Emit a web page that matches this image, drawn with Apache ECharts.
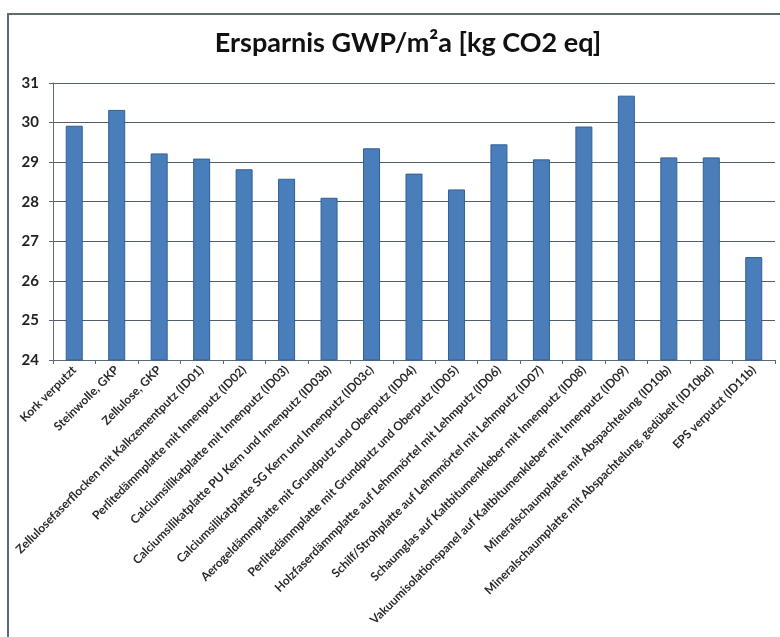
<!DOCTYPE html>
<html>
<head>
<meta charset="utf-8">
<script src="https://cdn.jsdelivr.net/npm/echarts@6/dist/echarts.min.js"></script>
<style>
html,body{margin:0;padding:0;background:#fff;}
#chart{width:780px;height:637px;}
</style>
</head>
<body>
<div id="chart"></div>
<script>
const titleText = 'Ersparnis GWP/m²a [kg CO2 eq]';
const categories = [
  'Kork verputzt',
  'Steinwolle, GKP',
  'Zellulose, GKP',
  'Zellulosefaserflocken mit Kalkzementputz (ID01)',
  'Perlitedämmplatte mit Innenputz (ID02)',
  'Calciumsilikatplatte mit Innenputz (ID03)',
  'Calciumsilikatplatte PU Kern und Innenputz (ID03b)',
  'Calciumsilikatplatte SG Kern und Innenputz (ID03c)',
  'Aerogeldämmplatte mit Grundputz und Oberputz (ID04)',
  'Perlitedämmplatte mit Grundputz und Oberputz (ID05)',
  'Holzfaserdämmplatte auf Lehmmörtel mit Lehmputz (ID06)',
  'Schilf/Strohplatte auf Lehmmörtel mit Lehmputz (ID07)',
  'Schaumglas auf Kaltbitumenkleber mit Innenputz (ID08)',
  'Vakuumisolationspanel auf Kaltbitumenkleber mit Innenputz (ID09)',
  'Mineralschaumplatte mit Abspachtelung (ID10b)',
  'Mineralschaumplatte mit Abspachtelung, gedübelt (ID10bd)',
  'EPS verputzt (ID11b)'
];
const values = [29.92, 30.32, 29.22, 29.09, 28.82, 28.58, 28.10, 29.35, 28.71, 28.31, 29.45, 29.07, 29.90, 30.68, 29.12, 29.12, 26.60];
const yMin = 24, yMax = 31, yStep = 1;

const chart = echarts.init(document.getElementById('chart'), null, {renderer:'canvas'});
chart.setOption({
  animation: false,
  backgroundColor: '#fff',
  graphic: [{
    type: 'rect',
    shape: {x: 8, y: 14, width: 800, height: 700},
    style: {fill: 'none', stroke: '#5f6b73', lineWidth: 2},
    silent: true, z: -1
  }],
  title: {
    text: titleText,
    left: 403, top: 25, textAlign: 'center',
    textStyle: {fontFamily: 'Lato', fontWeight: 'bold', fontSize: 27, color: '#111'}
  },
  grid: {left: 53, right: 5, top: 83, bottom: 277, containLabel: false},
  xAxis: {
    type: 'category',
    data: categories,
    axisLine: {lineStyle: {color: '#5a6a78', width: 1}},
    axisTick: {show: true, alignWithLabel: false, length: 4, lineStyle: {color: '#5a6a78'}},
    axisLabel: {
      rotate: 45, interval: 0, margin: 8,
      fontFamily: 'Lato', fontSize: 12, fontWeight: 'bold', color: '#2a2a2a'
    }
  },
  yAxis: {
    type: 'value', min: yMin, max: yMax, interval: yStep,
    axisLine: {show: true, lineStyle: {color: '#5a6a78', width: 1}},
    axisTick: {show: true, length: 4, lineStyle: {color: '#5a6a78'}},
    splitLine: {lineStyle: {color: '#4f5f6b', width: 1}},
    axisLabel: {fontFamily: 'Lato', fontSize: 15, fontWeight: 'bold', color: '#222', margin: 14}
  },
  series: [{
    type: 'bar',
    data: values,
    barWidth: 17,
    itemStyle: {color: '#4a7ebb', borderColor: '#2f5f96', borderWidth: 1}
  }]
});
</script>
</body>
</html>
